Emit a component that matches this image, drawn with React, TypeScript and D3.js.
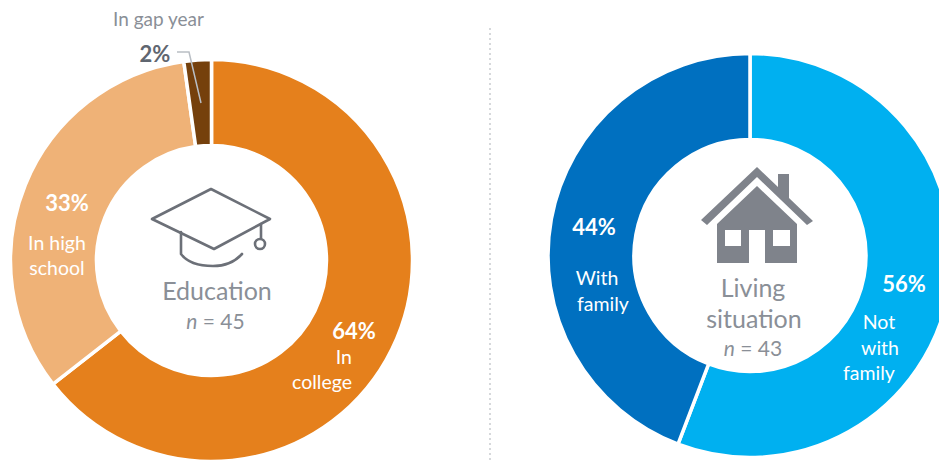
import React from "react";
import * as d3 from "d3";

const educationLabels = ["In college", "In high school", "In gap year"];
const educationValues = [64.4, 33.3, 2.2];
const educationColors = ["#E5801C", "#EFB277", "#75400C"];
const livingLabels = ["Not with family", "With family"];
const livingValues = [55.8, 44.2];
const livingColors = ["#00B0F0", "#0070C0"];

const FONT = "Lato, 'Open Sans', sans-serif";
const GREY = "#8A8F97";
const DARK = "#5F6670";
const ICON = "#7F838B";

function Donut({ cx, cy, values, colors, labels, r0, r1 }: { cx: number; cy: number; values: number[]; colors: string[]; labels: string[]; r0: number; r1: number }) {
  const arcs = d3.pie<number>().sort(null)(values);
  const arc = d3.arc<d3.PieArcDatum<number>>().innerRadius(r0).outerRadius(r1);
  return (
    <g transform={`translate(${cx},${cy})`}>
      {arcs.map((a, i) => (
        <path key={labels[i]} d={arc(a) ?? ""} fill={colors[i]} stroke="#fff" strokeWidth={3.5} />
      ))}
    </g>
  );
}

function T({ x, y, size, fill, weight, anchor = "middle", children }: { x: number; y: number; size: number; fill: string; weight?: number; anchor?: string; children: React.ReactNode }) {
  return (
    <text x={x} y={y} fontSize={size} fill={fill} fontWeight={weight ?? 400} textAnchor={anchor as any} fontFamily={FONT}>
      {children}
    </text>
  );
}

export default function App() {
  return (
    <svg width={939} height={460} style={{ position: "absolute", left: 0, top: 0, background: "#fff" }}>
      <line x1={490} x2={490} y1={28} y2={460} stroke="#C9CCD0" strokeWidth={1.5} strokeDasharray="2 3" />
      <Donut cx={211.5} cy={260.5} r0={115} r1={201} values={educationValues} colors={educationColors} labels={educationLabels} />
      <Donut cx={750} cy={255.5} r0={116} r1={202} values={livingValues} colors={livingColors} labels={livingLabels} />

      {/* gap year leader */}
      <polyline points="177,52 189,52 201,103" fill="none" stroke="#B9BEC4" strokeWidth={1.5} />
      <T x={113} y={26} size={19} fill={GREY} anchor="start">In gap year</T>
      <T x={155} y={62} size={22} fill={DARK} weight={700}>2%</T>

      <T x={67} y={211} size={22} fill="#fff" weight={700}>33%</T>
      <T x={57} y={250} size={19.5} fill="#fff">In high</T>
      <T x={57} y={275} size={19.5} fill="#fff">school</T>

      <T x={354} y={339} size={22} fill="#fff" weight={700}>64%</T>
      <T x={352} y={364} size={19.5} fill="#fff" anchor="end">In</T>
      <T x={352} y={389} size={19.5} fill="#fff" anchor="end">college</T>

      {/* graduation cap */}
      <g fill="none" stroke="#6C7078" strokeWidth={2.6} strokeLinejoin="round" strokeLinecap="round">
        <path d="M152,219 L211,189 L270,219 L214,249 Z" />
        <path d="M181,232 L181,254 Q190,266 213,266 Q231,266 242,254" />
        <path d="M261,224 L261,238" />
        <circle cx={260} cy={244} r={5} />
      </g>
      <T x={217} y={300} size={25} fill={GREY}>Education</T>
      <text x={215.5} y={329} fontSize={21} fill={GREY} textAnchor="middle" fontFamily={FONT}>
        <tspan fontStyle="italic">n</tspan> = 45
      </text>

      <T x={594} y={235} size={22} fill="#fff" weight={700}>44%</T>
      <T x={597} y={285} size={19.5} fill="#fff">With</T>
      <T x={603} y={311} size={19.5} fill="#fff">family</T>

      <T x={904} y={292} size={22} fill="#fff" weight={700}>56%</T>
      <T x={879} y={329} size={19.5} fill="#fff">Not</T>
      <T x={880} y={355} size={19.5} fill="#fff">with</T>
      <T x={869} y={380} size={19.5} fill="#fff">family</T>

      {/* house */}
      <path fill={ICON} d="M757,167 L778,187 L778,174 L789,174 L789,198 L813,221 L807,225 L757,177 L707,225 L701,220 Z" />
      <path fill={ICON} fillRule="evenodd" d="M757,186 L797,224 L797,263 L765,263 L765,230 L749,230 L749,263 L717,263 L717,224 Z M725,230 L725,246 L741,246 L741,230 Z M773,230 L773,246 L790,246 L790,230 Z" />

      <T x={753} y={297} size={25} fill={GREY}>Living</T>
      <T x={754} y={328} size={25} fill={GREY}>situation</T>
      <text x={753} y={356} fontSize={21} fill={GREY} textAnchor="middle" fontFamily={FONT}>
        <tspan fontStyle="italic">n</tspan> = 43
      </text>
    </svg>
  );
}
